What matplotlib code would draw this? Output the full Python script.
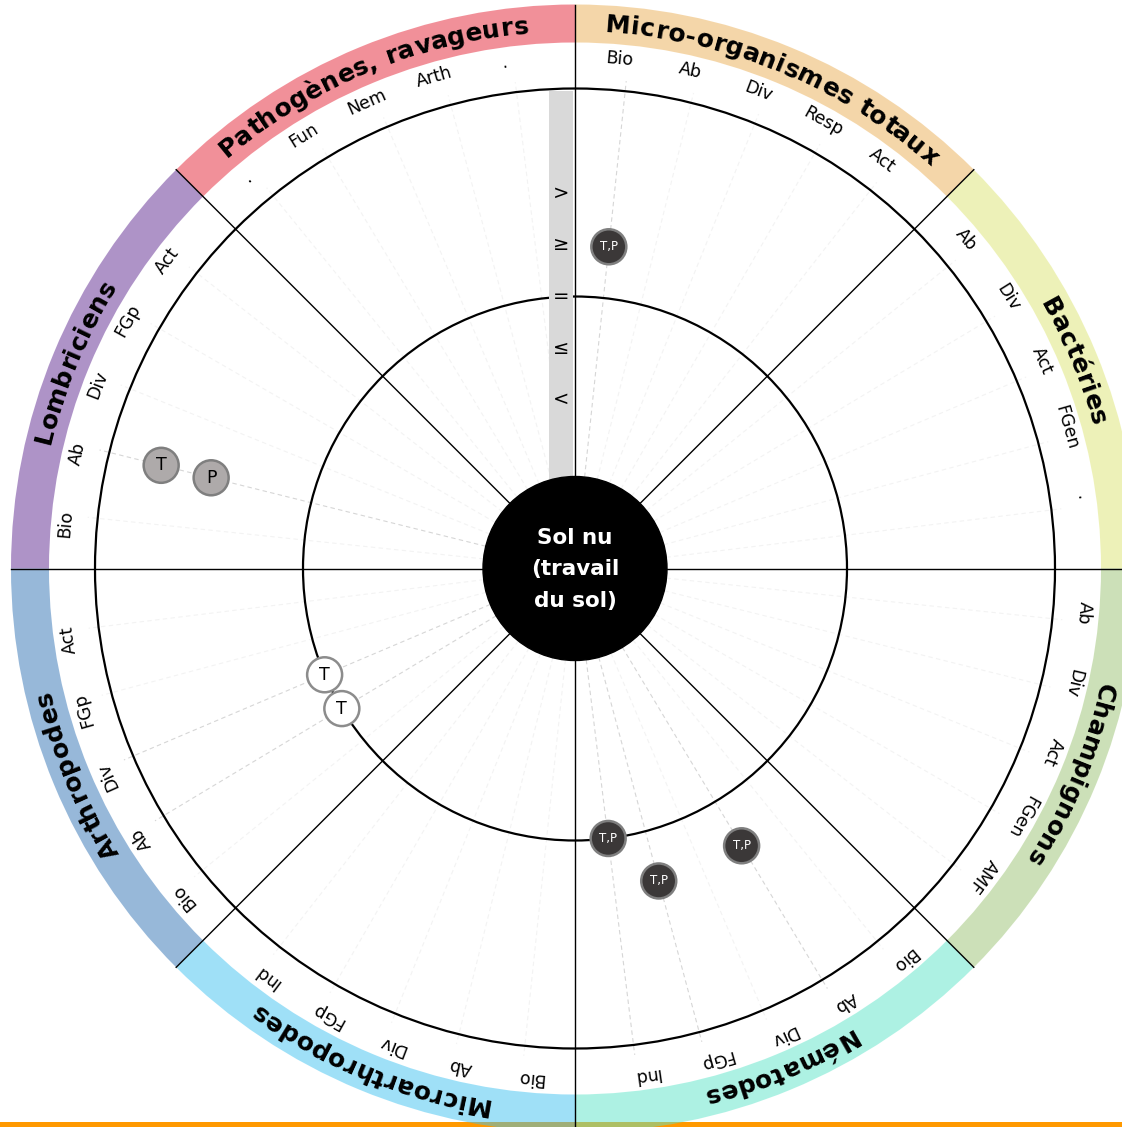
import numpy as np
import matplotlib
matplotlib.use("Agg")
import matplotlib.pyplot as plt
from matplotlib.patches import Circle, Wedge, Rectangle
from matplotlib.font_manager import FontProperties, findfont, get_font

# ---------------- data ----------------
sectors = ["Micro-organismes totaux", "Bactéries", "Champignons", "Nématodes",
           "Microarthropodes", "Arthropodes", "Lombriciens", "Pathogènes, ravageurs"]
sector_colors = ["#f5d7aa", "#eef2b9", "#cde1b9", "#aef2e4",
                 "#a0e1f8", "#98b9da", "#af94c8", "#f2919a"]
sub_labels = [
    ["Bio", "Ab", "Div", "Resp", "Act"],
    ["Ab", "Div", "Act", "FGen", "."],
    ["Ab", "Div", "Act", "FGen", "AMF"],
    ["Bio", "Ab", "Div", "FGp", "Ind"],
    ["Bio", "Ab", "Div", "FGp", "Ind"],
    ["Bio", "Ab", "Div", "FGp", "Act"],
    ["Bio", "Ab", "Div", "FGp", "Act"],
    [".", "Fun", "Nem", "Arth", "."],
]
level_symbols = ["<", "≤", "=", "≥", ">"]          # levels 1..5
center_text = "Sol nu\n(travail\ndu sol)"

# results: sector index, indicator, level (1..6), label, style
res_sector = [0, 6, 6, 5, 5, 3, 3, 3]
res_indicator = ["Bio", "Ab", "Ab", "Div", "Ab", "Ind", "FGp", "Ab"]
res_level = [4, 6, 5, 3, 3, 3, 4, 4]
res_label = ["T,P", "T", "P", "T", "T", "T,P", "T,P", "T,P"]
res_style = ["dark", "grey", "grey", "white", "white", "dark", "dark", "dark"]

# ---------------- geometry ----------------
W, H = 1122, 1127
DPI = 100
cx, cy = 575.0, 568.5
R_CENTER = 92
R_INNER = 272
R_OUTER = 480
R_BAND_IN, R_BAND_OUT = 526, 564
R_SUB = 511


def level_radius(k):
    return R_INNER + (k - 3) * 51.5


def xy(r, theta_deg):
    t = np.deg2rad(theta_deg)
    return cx + r * np.sin(t), cy - r * np.cos(t)


def label_angle(i, j):
    return 45 * i + 5 + 8 * j


def line_angle(i, j):
    return 45 * i + 6 + 8 * j


fig = plt.figure(figsize=(W / DPI, H / DPI), dpi=DPI)
ax = fig.add_axes([0, 0, 1, 1])
ax.set_xlim(0, W)
ax.set_ylim(H, 0)
ax.set_aspect("equal")
ax.axis("off")

# orange bottom line (under the semi-transparent bands)
ax.add_patch(Rectangle((0, 1122), W, 6, color="#ff9900", zorder=0.5, lw=0))


def true_color(hexc, alpha=0.5):
    c = np.array(matplotlib.colors.to_rgb(hexc))
    t = (c - (1 - alpha)) / alpha
    return tuple(np.clip(t, 0, 1))


# bands
for i, col in enumerate(sector_colors):
    ax.add_patch(Wedge((cx, cy), R_BAND_OUT, 45 * i - 90, 45 * (i + 1) - 90,
                       width=R_BAND_OUT - R_BAND_IN, facecolor=true_color(col),
                       alpha=0.5, lw=0, zorder=1))

# dashed guide lines
used = set((s, sub_labels[s].index(ind)) for s, ind in zip(res_sector, res_indicator))
for i in range(8):
    for j in range(5):
        a = line_angle(i, j)
        x0, y0 = xy(R_CENTER, a)
        x1, y1 = xy(490, a)
        c = "#d6d6d6" if (i, j) in used else "#f3f3f3"
        ax.plot([x0, x1], [y0, y1], ls=(0, (4, 3)), color=c, lw=0.8, zorder=1.5)

# circles
for r in (R_INNER, R_OUTER):
    ax.add_patch(Circle((cx, cy), r, fill=False, ec="black", lw=1.6, zorder=2))

# sector lines
for k in range(8):
    x0, y0 = xy(R_CENTER, 45 * k)
    x1, y1 = xy(R_BAND_OUT, 45 * k)
    ax.plot([x0, x1], [y0, y1], color="black", lw=1.0, zorder=2.2)

# grey scale bar
ax.add_patch(Rectangle((cx - 26, cy - 478), 24.5, 478, color="#d9d9d9", lw=0, zorder=2.1))
for k, s in enumerate(level_symbols, start=1):
    ax.text(cx - 13.5, cy - level_radius(k), s, ha="center", va="center",
            fontsize=14, color="black", zorder=5)

# center disc
ax.add_patch(Circle((cx, cy), R_CENTER, color="black", zorder=3))
ax.text(cx, cy + 1, center_text, ha="center", va="center", color="white",
        fontsize=15.5, fontweight="bold", linespacing=1.7, zorder=5)

# sub labels
for i in range(8):
    for j, lab in enumerate(sub_labels[i]):
        a = label_angle(i, j)
        x, y = xy(R_SUB, a)
        ax.text(x, y, lab, ha="center", va="center", rotation=-a,
                rotation_mode="anchor", fontsize=12.5, color="black", zorder=5)

# curved sector titles (each character is a real text object)
TITLE_PT = 18
TRACKING = 0.5   # extra px between letters
prop = FontProperties(family="DejaVu Sans", weight="bold", size=TITLE_PT)
ftfont = get_font(findfont(prop))
ftfont.set_size(TITLE_PT, DPI)


def char_layout(s):
    """Ink-centre positions along the baseline, left bearings and total advance (px)."""
    pen = 0.0
    centres, bearings = [], []
    for ch in s:
        g = ftfont.load_char(ord(ch))
        centres.append(pen + (g.horiBearingX + g.width / 2) / 64.0)
        bearings.append(g.horiBearingX / 64.0)
        pen += g.linearHoriAdvance / 65536.0 + TRACKING
    return centres, bearings, pen - TRACKING


R_TXT_ARC = 545
R_TXT_BASE = 537
for i, name in enumerate(sectors):
    centres, bearings, total = char_layout(name)
    mid = 45 * i + 22.5
    for ch, xc, bx in zip(name, centres, bearings):
        if ch == " ":
            continue
        a = mid + np.rad2deg((xc - total / 2) / R_TXT_ARC)
        x, y = xy(R_TXT_BASE, a)
        # Agg shifts a glyph bitmap by its left bearing along screen x; compensate
        ax.text(x - bx, y, ch, fontproperties=prop, ha="center", va="baseline",
                rotation=-a, rotation_mode="anchor", color="black", zorder=5)

# result dots
styles = {
    "dark": dict(fc="#3b3838", ec="#7f7f7f", tc="white", fs=8.5),
    "grey": dict(fc="#aeaaaa", ec="#7f7f7f", tc="black", fs=12.5),
    "white": dict(fc="white", ec="#8c8c8c", tc="black", fs=12.5),
}
for s, ind, lev, lab, st in zip(res_sector, res_indicator, res_level, res_label, res_style):
    j = sub_labels[s].index(ind)
    a = line_angle(s, j)
    x, y = xy(level_radius(lev), a)
    sty = styles[st]
    ax.add_patch(Circle((x, y), 17.5, facecolor=sty["fc"], edgecolor=sty["ec"], lw=1.8, zorder=4))
    ax.text(x, y, lab, ha="center", va="center", color=sty["tc"], fontsize=sty["fs"], zorder=5)

fig.savefig("out.png", dpi=DPI)
